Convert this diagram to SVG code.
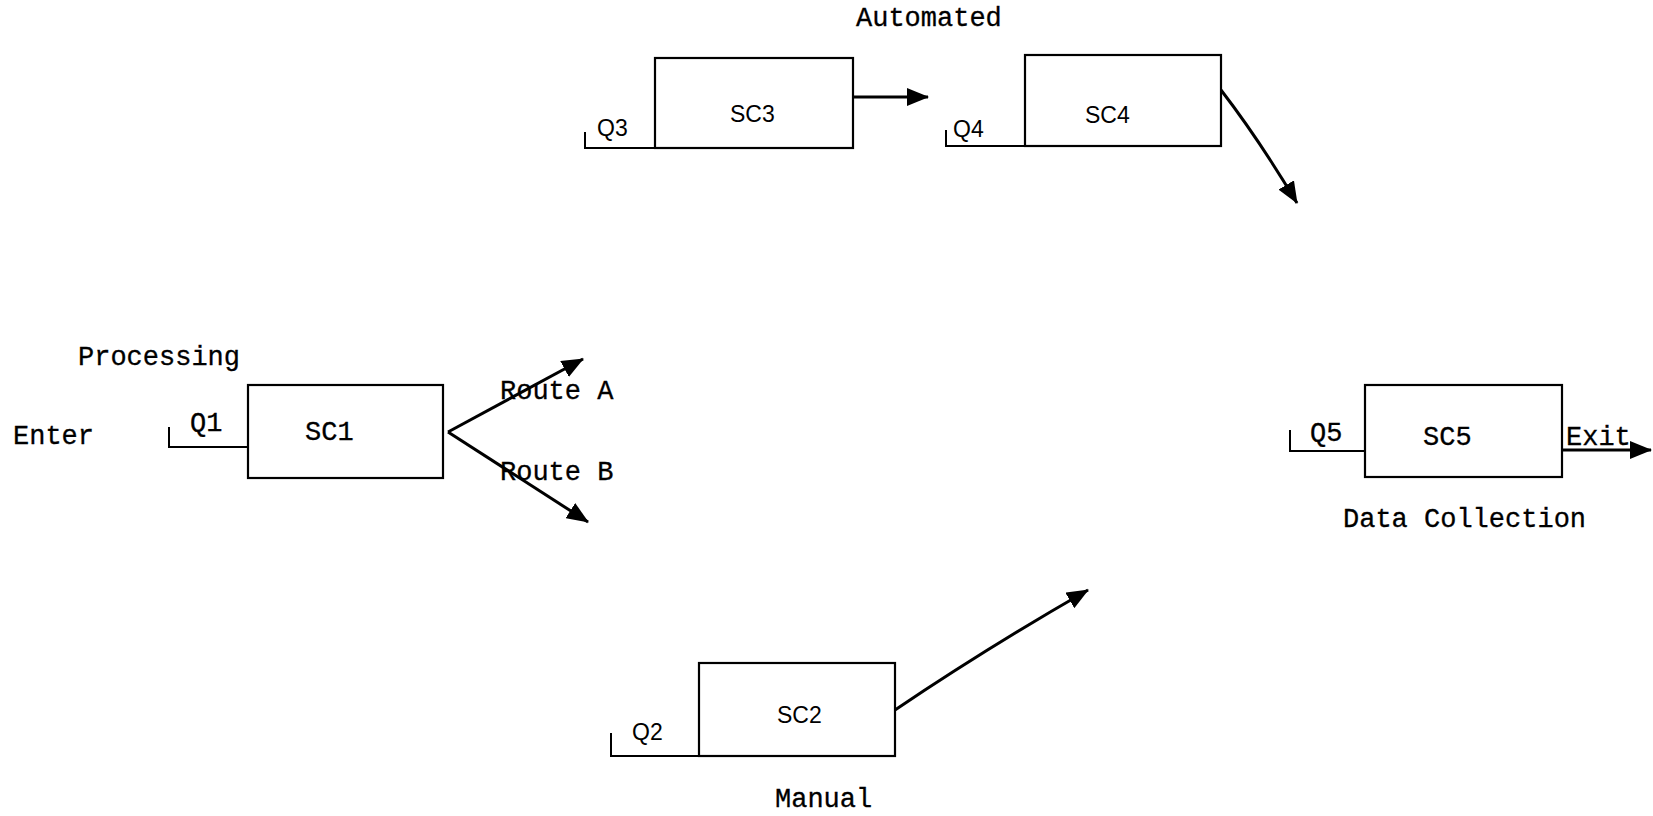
<svg xmlns="http://www.w3.org/2000/svg" width="1653" height="816" viewBox="0 0 1653 816">
<style>
.box{fill:#fff;stroke:#000;stroke-width:2.2}
.q{fill:none;stroke:#000;stroke-width:2}
.mono{font-family:"Liberation Mono","DejaVu Sans Mono",monospace;font-size:27px;fill:#000;stroke:#000;stroke-width:0.3}
.sans{font-family:"Liberation Sans",Arial,sans-serif;font-size:23px;fill:#000}
.arr{fill:none;stroke:#000;stroke-width:3;marker-end:url(#ah)}
</style>
<defs>
<marker id="ah" viewBox="0 0 22 18" refX="21" refY="9" markerWidth="22" markerHeight="18" markerUnits="userSpaceOnUse" orient="auto">
<path d="M0,0 L22,9 L0,18 z" fill="#000"/>
</marker>
</defs>
<rect width="1653" height="816" fill="#fff"/>
<g id="labels">
<text class="mono" x="856" y="26">Automated</text>
<text class="mono" x="78" y="365">Processing</text>
<text class="mono" x="13" y="444">Enter</text>
<text class="mono" x="775" y="807">Manual</text>
<text class="mono" x="1343" y="527">Data Collection</text>
</g>
<g id="connectors">
<path class="arr" d="M853,97 L928,97"/>
<path class="arr" d="M1221,90 Q1258,138 1297,203"/>
<path class="arr" d="M448,432 L583,359"/>
<path class="arr" d="M448,432 L588,522"/>
<path class="arr" d="M895,710 Q987,648 1088,590"/>
<path class="arr" d="M1562,450 L1651,450"/>
<text class="mono" x="500" y="399">Route A</text>
<text class="mono" x="500" y="480">Route B</text>
<text class="mono" x="1566" y="445">Exit</text>
</g>
<g id="sc1">
<path class="q" d="M169,427 V447 H248"/>
<rect class="box" x="248" y="385" width="195" height="93"/>
<text class="mono" x="190" y="431">Q1</text>
<text class="mono" x="305" y="440">SC1</text>
</g>
<g id="sc2">
<path class="q" d="M611,733 V756 H699"/>
<rect class="box" x="699" y="663" width="196" height="93"/>
<text class="sans" x="632" y="740">Q2</text>
<text class="sans" x="777" y="723">SC2</text>
</g>
<g id="sc3">
<path class="q" d="M585,132 V148 H655"/>
<rect class="box" x="655" y="58" width="198" height="90"/>
<text class="sans" x="597" y="136">Q3</text>
<text class="sans" x="730" y="122">SC3</text>
</g>
<g id="sc4">
<path class="q" d="M946,130 V146 H1025"/>
<rect class="box" x="1025" y="55" width="196" height="91"/>
<text class="sans" x="953" y="137">Q4</text>
<text class="sans" x="1085" y="123">SC4</text>
</g>
<g id="sc5">
<path class="q" d="M1290,430 V451 H1365"/>
<rect class="box" x="1365" y="385" width="197" height="92"/>
<text class="mono" x="1310" y="441">Q5</text>
<text class="mono" x="1423" y="445">SC5</text>
</g>
</svg>
